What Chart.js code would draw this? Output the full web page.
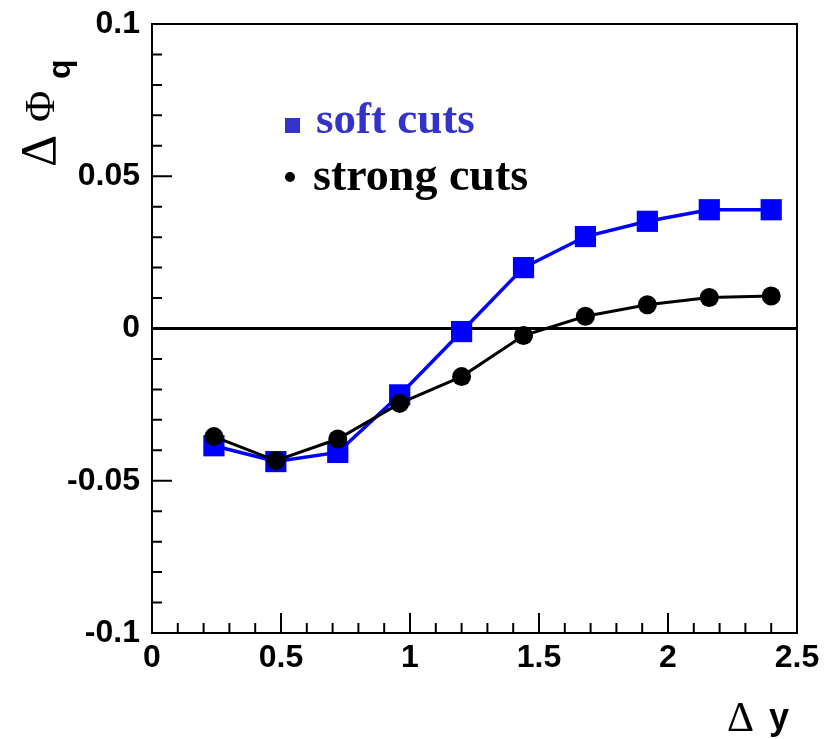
<!DOCTYPE html>
<html>
<head>
    <script src="https://cdn.jsdelivr.net/npm/chart.js"></script>
    <style>
        body { margin: 0; background: white; }
        #wrap { width: 832px; height: 739px; }
    </style>
</head>
<body>
    <div id="wrap"><canvas id="myChart"></canvas></div>
    <script>
        // Delta y bins
        const dy = [0.24, 0.48, 0.72, 0.96, 1.2, 1.44, 1.68, 1.92, 2.16, 2.4];
        // Delta Phi_q values
        const softCuts = [-0.0385, -0.0437, -0.0407, -0.0218, -0.001, 0.020, 0.0302, 0.0352, 0.039, 0.039];
        const strongCuts = [-0.0355, -0.0434, -0.0363, -0.0246, -0.0158, -0.0023, 0.0040, 0.0078, 0.0102, 0.0107];
        const legendLabels = ['soft cuts', 'strong cuts'];

        const fmt = v => String(Math.round(v * 100) / 100);

        // ROOT style frame, inward ticks, zero line
        const framePlugin = {
            id: 'frame',
            beforeDatasetsDraw(chart) {
                const { ctx, chartArea: a, scales: { x, y } } = chart;
                ctx.save();
                ctx.strokeStyle = '#000';
                ctx.lineWidth = 2;
                ctx.strokeRect(a.left, a.top, a.right - a.left, a.bottom - a.top);

                ctx.beginPath();
                for (let i = 0; i <= 20; i++) {
                    const py = y.getPixelForValue(-0.1 + i * 0.01);
                    const len = i % 5 === 0 ? 20 : 10;
                    ctx.moveTo(a.left, py);
                    ctx.lineTo(a.left + len, py);
                }
                for (let i = 0; i <= 25; i++) {
                    const px = x.getPixelForValue(i * 0.1);
                    const len = i % 5 === 0 ? 20 : 10;
                    ctx.moveTo(px, a.bottom);
                    ctx.lineTo(px, a.bottom - len);
                }
                ctx.stroke();

                // zero line
                const y0 = y.getPixelForValue(0);
                ctx.lineWidth = 3;
                ctx.beginPath();
                ctx.moveTo(a.left, y0);
                ctx.lineTo(a.right, y0);
                ctx.stroke();
                ctx.restore();
            },
            afterDraw(chart) {
                const ctx = chart.ctx;
                ctx.save();
                // legend text
                ctx.textBaseline = 'alphabetic';
                ctx.fillStyle = '#3333cc';
                ctx.fillRect(285, 118, 15, 15);
                ctx.font = 'bold 45px "Liberation Serif"';
                ctx.fillText(legendLabels[0], 316, 133);
                ctx.fillStyle = '#000';
                ctx.beginPath();
                ctx.arc(290, 177, 5, 0, Math.PI * 2);
                ctx.fill();
                ctx.font = 'bold 46px "Liberation Serif"';
                ctx.fillText(legendLabels[1], 313, 190);

                // x axis title
                ctx.font = '42px "Liberation Serif"';
                ctx.fillText('\u0394', 727, 731);
                ctx.font = 'bold 36px "Liberation Sans"';
                ctx.fillText('y', 769, 729);

                // y axis title (rotated)
                ctx.translate(59, 167);
                ctx.rotate(-Math.PI / 2);
                ctx.font = '50px "Liberation Serif"';
                ctx.fillText('\u0394', 0, -4);
                ctx.font = '43px "Liberation Serif"';
                ctx.fillText('\u03A6', 45, -5);
                ctx.font = 'bold 32px "Liberation Sans"';
                ctx.fillText('q', 88, 11);
                ctx.restore();
            }
        };

        new Chart('myChart', {
            type: 'line',
            data: {
                datasets: [{
                    label: legendLabels[0],
                    data: dy.map((v, i) => ({ x: v, y: softCuts[i] })),
                    borderColor: '#0000ff',
                    backgroundColor: '#0000ff',
                    borderWidth: 3.5,
                    tension: 0,
                    pointStyle: 'rect',
                    pointRadius: 15,
                    pointBorderWidth: 0,
                    order: 2
                }, {
                    label: legendLabels[1],
                    data: dy.map((v, i) => ({ x: v, y: strongCuts[i] })),
                    borderColor: '#000',
                    backgroundColor: '#000',
                    borderWidth: 3,
                    tension: 0,
                    pointStyle: 'circle',
                    pointRadius: 9.5,
                    pointBorderWidth: 0,
                    order: 1
                }]
            },
            options: {
                responsive: true,
                maintainAspectRatio: false,
                animation: false,
                layout: { padding: { top: 24, right: 35, left: 0, bottom: 0 } },
                plugins: {
                    legend: { display: false },
                    tooltip: { enabled: false }
                },
                scales: {
                    x: {
                        type: 'linear',
                        min: 0,
                        max: 2.5,
                        grid: { display: false, drawTicks: false },
                        border: { display: false },
                        afterFit: s => { s.height = 106; s.paddingLeft = 0; s.paddingRight = 0; },
                        ticks: {
                            stepSize: 0.5,
                            padding: 6,
                            color: '#000',
                            font: { family: 'Liberation Sans', size: 32, weight: 'bold' },
                            callback: fmt
                        }
                    },
                    y: {
                        min: -0.1,
                        max: 0.1,
                        grid: { display: false, drawTicks: false },
                        border: { display: false },
                        afterFit: s => { s.width = 152; s.paddingTop = 0; s.paddingBottom = 0; },
                        ticks: {
                            stepSize: 0.05,
                            padding: 12,
                            color: '#000',
                            font: { family: 'Liberation Sans', size: 32, weight: 'bold' },
                            callback: fmt
                        }
                    }
                }
            },
            plugins: [framePlugin]
        });
    </script>
</body>
</html>
